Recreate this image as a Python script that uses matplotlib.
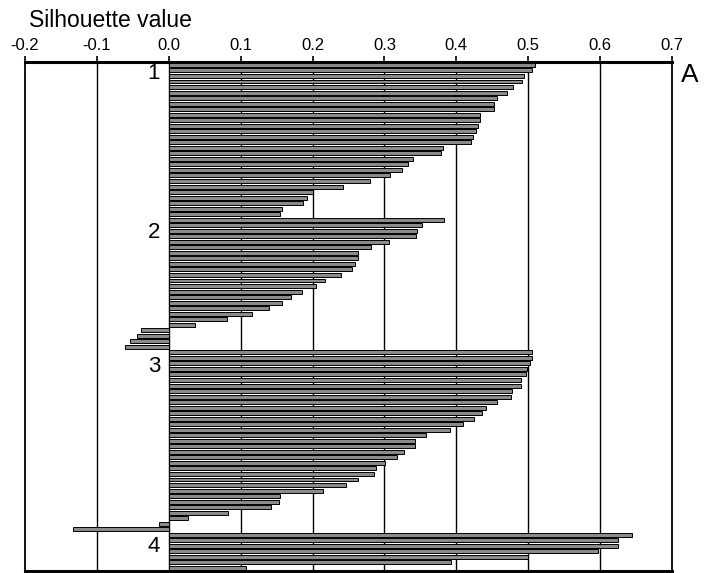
import numpy as np
import matplotlib
matplotlib.use("Agg")
import matplotlib.pyplot as plt

plt.rcParams['font.family'] = ['Liberation Sans', 'DejaVu Sans']

# silhouette values per cluster, sorted as drawn (top to bottom)
cluster1 = [0.510, 0.506, 0.494, 0.492, 0.479, 0.471, 0.456, 0.452, 0.452, 0.433,
            0.433, 0.430, 0.427, 0.423, 0.420, 0.381, 0.379, 0.340, 0.333, 0.324,
            0.308, 0.280, 0.242, 0.200, 0.193, 0.187, 0.158, 0.155]
cluster2 = [0.383, 0.352, 0.345, 0.344, 0.306, 0.281, 0.263, 0.263, 0.259, 0.255,
            0.239, 0.218, 0.205, 0.185, 0.170, 0.157, 0.139, 0.116, 0.081, 0.036,
            -0.038, -0.044, -0.054, -0.061]
cluster3 = [0.506, 0.506, 0.503, 0.499, 0.497, 0.490, 0.490, 0.478, 0.476, 0.457,
            0.441, 0.436, 0.425, 0.409, 0.391, 0.358, 0.343, 0.343, 0.327, 0.318,
            0.301, 0.288, 0.285, 0.263, 0.246, 0.215, 0.155, 0.154, 0.142, 0.083,
            0.027, -0.014, -0.133]
cluster4 = [0.645, 0.625, 0.625, 0.597, 0.500, 0.393, 0.107]

clusters = [cluster1, cluster2, cluster3, cluster4]
cluster_names = ["1", "2", "3", "4"]
label_offsets = [1.6, 2.4, 2.5, 2.1]   # where the cluster number sits, in bars from cluster top
xticks = [-0.2, -0.1, 0.0, 0.1, 0.2, 0.3, 0.4, 0.5, 0.6, 0.7]

fig = plt.figure(figsize=(7.18, 5.73), dpi=100)
ax = fig.add_axes([0.0348, 0.004, 0.901, 0.888])

vals = np.concatenate([np.array(c) for c in clusters])
ypos = np.arange(len(vals))

# grid lines first so bars sit on top
for t in xticks[1:-1]:
    ax.axvline(t, color='black', lw=1.0, zorder=1)

ax.barh(ypos, vals, height=0.72, left=0, color='#8a8a8a',
        edgecolor='black', linewidth=0.7, zorder=2)

start = 0
for name, c, off in zip(cluster_names, clusters, label_offsets):
    ax.text(-0.012, start + off, name, ha='right', va='center', fontsize=16)
    start += len(c)

ax.set_xlim(-0.2, 0.7)
ax.set_ylim(len(vals) - 0.5, -0.55)
ax.set_yticks([])
ax.set_xticks(xticks)
ax.set_xticklabels(["%.1f" % t for t in xticks], fontsize=12)
ax.xaxis.tick_top()
ax.tick_params(axis='x', direction='out', length=4, width=1.2, pad=2.5)

for side in ['left', 'right']:
    ax.spines[side].set_linewidth(1.3)
for side in ['top', 'bottom']:
    ax.spines[side].set_linewidth(2.2)

fig.text(0.040, 0.953, "Silhouette value", fontsize=16.5, ha='left', va='baseline')
fig.text(0.961, 0.869, "A", fontsize=19, ha='center', va='center')

fig.savefig("out.png", dpi=100)
